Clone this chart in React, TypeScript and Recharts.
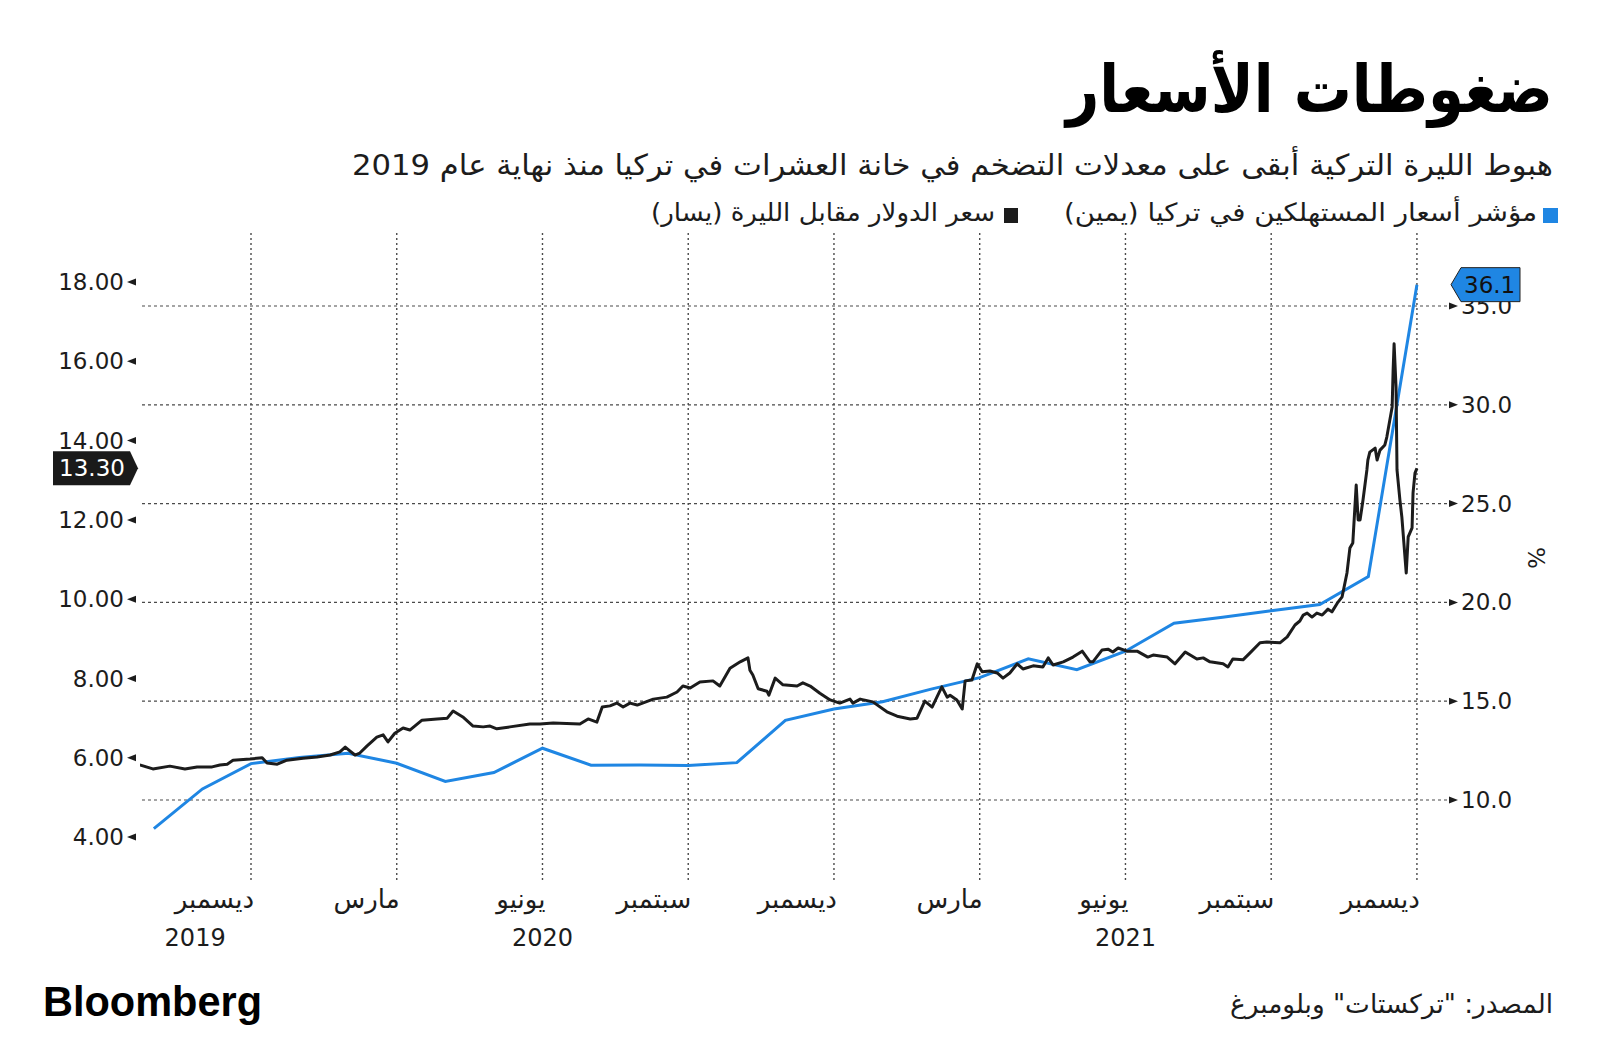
import React from "react";
import { LineChart, Line, XAxis, YAxis, ReferenceLine } from "recharts";

const FONT = "'DejaVu Sans', sans-serif";
const BLUE = "#1f86e3";
const INK = "#1c1c1c";
const GRID = "#4a4a4a";

// x values are months counted from 1 Jan 2020 (0 = Jan 2020 start, 24 = Jan 2022 start)
const monthTicks = [0, 3, 6, 9, 12, 15, 18, 21, 24];
const monthLabels = ["ديسمبر", "مارس", "يونيو", "سبتمبر", "ديسمبر", "مارس", "يونيو", "سبتمبر", "ديسمبر"];
const yearTicks = [-1.15, 6, 18];
const yearLabels = ["2019", "2020", "2021"];
const leftTicks = [4, 6, 8, 10, 12, 14, 16, 18];
const rightTicks = [10, 15, 20, 25, 30, 35];

// consumer price index, yoy % (right axis), plotted at month end
const cpiMonths = [-2, -1, 0, 1, 2, 3, 4, 5, 6, 7, 8, 9, 10, 11, 12, 13, 14, 15, 16, 17, 18, 19, 20, 21, 22, 23, 24];
const cpiValues = [
  8.55, 10.56, 11.84, 12.15, 12.37, 11.86, 10.94, 11.39, 12.62, 11.76, 11.77, 11.75, 11.89, 14.03,
  14.6, 14.97, 15.61, 16.19, 17.14, 16.59, 17.53, 18.95, 19.25, 19.58, 19.89, 21.31, 36.08,
];

// dollar vs lira (left axis)
const usdTryMonths = [
  -2.29, -2.02, -1.67, -1.36, -1.11, -0.8, -0.64, -0.49, -0.37, -0.02,
  0.23, 0.33, 0.54, 0.74, 1.07, 1.36, 1.63, 1.83, 1.94, 2.04,
  2.14, 2.24, 2.39, 2.59, 2.72, 2.82, 2.96, 3.13, 3.27, 3.52,
  3.83, 4.04, 4.16, 4.36, 4.57, 4.78, 4.92, 5.06, 5.33, 5.74,
  5.95, 6.22, 6.77, 6.94, 7.12, 7.23, 7.39, 7.53, 7.66, 7.8,
  7.95, 8.28, 8.56, 8.77, 8.89, 9.04, 9.24, 9.51, 9.65, 9.86,
  10.07, 10.23, 10.27, 10.33, 10.44, 10.62, 10.66, 10.79, 10.95, 11.24,
  11.36, 11.51, 11.71, 11.92, 12.12, 12.33, 12.39, 12.54, 12.8, 13.09,
  13.3, 13.57, 13.71, 13.87, 14.02, 14.22, 14.33, 14.39, 14.53, 14.64,
  14.7, 14.84, 14.95, 15.05, 15.21, 15.36, 15.48, 15.62, 15.77, 15.89,
  16.1, 16.3, 16.41, 16.51, 16.72, 16.92, 17.11, 17.27, 17.33, 17.52,
  17.64, 17.74, 17.85, 18.03, 18.24, 18.46, 18.57, 18.86, 19.02, 19.23,
  19.47, 19.6, 19.74, 20.01, 20.11, 20.21, 20.42, 20.56, 20.77, 20.91,
  21.18, 21.33, 21.49, 21.59, 21.66, 21.74, 21.84, 21.94, 22.05, 22.17,
  22.25, 22.36, 22.46, 22.56, 22.62, 22.68, 22.75, 22.79, 22.83, 22.89,
  22.97, 22.99, 23.03, 23.14, 23.18, 23.24, 23.34, 23.38, 23.49, 23.51,
  23.53, 23.57, 23.59, 23.65, 23.69, 23.78, 23.82, 23.9, 23.92, 23.96,
  24.0,
];
const usdTryValues = [
  5.82, 5.72, 5.79, 5.72, 5.77, 5.77, 5.82, 5.84, 5.94, 5.97,
  6.0, 5.87, 5.84, 5.94, 5.99, 6.02, 6.07, 6.15, 6.27, 6.17,
  6.07, 6.12, 6.3, 6.52, 6.58, 6.4, 6.62, 6.75, 6.7, 6.95,
  6.98, 7.0, 7.18, 7.03, 6.8, 6.78, 6.8, 6.73, 6.78, 6.85,
  6.85, 6.88, 6.85, 6.98, 6.9, 7.28, 7.31, 7.38, 7.28, 7.38,
  7.33, 7.48, 7.53, 7.66, 7.81, 7.76, 7.91, 7.94, 7.81, 8.26,
  8.42, 8.52, 8.21, 8.09, 7.74, 7.68, 7.58, 8.01, 7.84, 7.81,
  7.89, 7.81, 7.63, 7.46, 7.38, 7.48, 7.38, 7.48, 7.41, 7.16,
  7.05, 6.98, 7.0, 7.43, 7.28, 7.79, 7.53, 7.58, 7.46, 7.23,
  7.94, 7.96, 8.37, 8.17, 8.19, 8.14, 8.01, 8.14, 8.37, 8.24,
  8.32, 8.29, 8.52, 8.34, 8.42, 8.54, 8.69, 8.42, 8.42, 8.72,
  8.74, 8.67, 8.77, 8.69, 8.69, 8.54, 8.59, 8.54, 8.37, 8.67,
  8.49, 8.52, 8.42, 8.37, 8.29, 8.49, 8.47, 8.64, 8.9, 8.92,
  8.9, 9.05, 9.35, 9.45, 9.6, 9.65, 9.55, 9.65, 9.6, 9.75,
  9.68, 9.9, 10.06, 10.66, 11.29, 11.42, 12.88, 12.0, 12.0, 12.5,
  13.26, 13.51, 13.71, 13.81, 13.51, 13.76, 13.89, 14.09, 14.85, 15.78,
  16.44, 15.35, 13.26, 12.5, 12.07, 10.66, 11.57, 11.8, 12.68, 13.18,
  13.3,
];

const cpiData = cpiMonths.map((m, i) => ({ m, cpi: cpiValues[i] }));
const usdTryData = usdTryMonths.map((m, i) => ({ m, usd: usdTryValues[i] }));

const MonthTick = (props: any) => {
  const { x, y, payload } = props;
  const i = monthTicks.indexOf(payload.value);
  return (
    <text x={x + 3} y={y + 28} textAnchor="end" fontFamily={FONT} fontSize={26} fill={INK}>
      {monthLabels[i]}
    </text>
  );
};

const YearTick = (props: any) => {
  const { x, y, payload } = props;
  const i = yearTicks.indexOf(payload.value);
  return (
    <text x={x} y={y + 26} textAnchor="middle" fontFamily={FONT} fontSize={24} fill={INK}>
      {yearLabels[i]}
    </text>
  );
};

const LeftTick = (props: any) => {
  const { x, y, payload } = props;
  return (
    <g>
      <text x={x - 16} y={y + 8} textAnchor="end" fontFamily={FONT} fontSize={23} fill={INK}>
        {payload.value.toFixed(2)}
      </text>
      <polygon points={`${x - 13},${y} ${x - 4},${y - 3.5} ${x - 4},${y + 3.5}`} fill={INK} />
    </g>
  );
};

const RightTick = (props: any) => {
  const { x, y, payload } = props;
  return (
    <g>
      <polygon points={`${x + 11},${y} ${x + 2},${y - 3.5} ${x + 2},${y + 3.5}`} fill={INK} />
      <text x={x + 14} y={y + 8} textAnchor="start" fontFamily={FONT} fontSize={23} fill={INK}>
        {payload.value.toFixed(1)}
      </text>
    </g>
  );
};

const usdBadge = (p: any) => {
  if (p.index !== usdTryValues.length - 1) return <g key={`u${p.index}`} />;
  const y = p.y;
  return (
    <g key="usd-badge">
      <polygon points={`53,${y - 17} 130,${y - 17} 138,${y} 130,${y + 17} 53,${y + 17}`} fill="#1a1a1a" />
      <text x={92} y={y + 8} textAnchor="middle" fontFamily={FONT} fontSize={23} fill="#fff">
        {Number(p.value).toFixed(2)}
      </text>
    </g>
  );
};

const cpiBadge = (p: any) => {
  if (p.index !== cpiValues.length - 1) return <g key={`c${p.index}`} />;
  const y = p.y;
  return (
    <g key="cpi-badge">
      <polygon
        points={`1451,${y} 1461,${y - 17} 1520,${y - 17} 1520,${y + 17} 1461,${y + 17}`}
        fill={BLUE}
        stroke="#222"
        strokeWidth={1}
      />
      <text x={1464} y={y + 8} textAnchor="start" fontFamily={FONT} fontSize={23} fill="#111">
        {Number(p.value).toFixed(1)}
      </text>
    </g>
  );
};

export default function App() {
  const xDomain = [-2.285, 24.619];
  return (
    <div style={{ position: "absolute", left: 0, top: 0, width: 1600, height: 1063, background: "#fff" }}>
      <div style={{ position: "absolute", left: 0, top: 0 }}>
        <LineChart width={1600} height={1063} margin={{ top: 233, right: 0, bottom: 103, left: 0 }}>
          <XAxis
            dataKey="m"
            type="number"
            domain={xDomain}
            allowDataOverflow
            ticks={monthTicks}
            interval={0}
            axisLine={false}
            tickLine={false}
            tickSize={0}
            tickMargin={0}
            height={40}
            tick={<MonthTick />}
          />
          <XAxis
            xAxisId="year"
            dataKey="m"
            type="number"
            domain={xDomain}
            allowDataOverflow
            ticks={yearTicks}
            interval={0}
            axisLine={false}
            tickLine={false}
            tickSize={0}
            tickMargin={0}
            height={40}
            tick={<YearTick />}
          />
          <YAxis
            yAxisId="left"
            orientation="left"
            type="number"
            domain={[2.918, 19.236]}
            allowDataOverflow
            ticks={leftTicks}
            interval={0}
            width={140}
            axisLine={false}
            tickLine={false}
            tickSize={0}
            tickMargin={0}
            tick={<LeftTick />}
          />
          <YAxis
            yAxisId="right"
            orientation="right"
            type="number"
            domain={[5.951, 38.694]}
            allowDataOverflow
            ticks={rightTicks}
            interval={0}
            width={153}
            axisLine={false}
            tickLine={false}
            tickSize={0}
            tickMargin={0}
            tick={<RightTick />}
          />
          {rightTicks.map((t) => (
            <ReferenceLine key={`h${t}`} yAxisId="right" y={t} stroke={GRID} strokeDasharray="3 3" strokeWidth={1.2} />
          ))}
          {monthTicks.map((t) => (
            <ReferenceLine key={`v${t}`} yAxisId="right" x={t} stroke={GRID} strokeDasharray="2 3" strokeWidth={1.4} />
          ))}
          <Line
            yAxisId="right"
            data={cpiData}
            dataKey="cpi"
            type="linear"
            stroke={BLUE}
            strokeWidth={3}
            dot={false}
            isAnimationActive={false}
            label={cpiBadge}
          />
          <Line
            yAxisId="left"
            data={usdTryData}
            dataKey="usd"
            type="linear"
            stroke={INK}
            strokeWidth={3}
            strokeLinejoin="round"
            dot={false}
            isAnimationActive={false}
            label={usdBadge}
          />
        </LineChart>
      </div>
      <svg width={1600} height={1063} style={{ position: "absolute", left: 0, top: 0, pointerEvents: "none" }}>
        <text x={1553} y={112} textAnchor="end" fontFamily={FONT} fontWeight="bold" fontSize={66} fill="#000"
          textLength={487} lengthAdjust="spacingAndGlyphs">
          ضغوطات الأسعار
        </text>
        <text x={1553} y={175} textAnchor="end" fontFamily={FONT} fontSize={29} fill={INK}
          textLength={1201} lengthAdjust="spacingAndGlyphs">
          هبوط الليرة التركية أبقى على معدلات التضخم في خانة العشرات في تركيا منذ نهاية عام 2019
        </text>
        <rect x={1543} y={208} width={15} height={15} fill={BLUE} />
        <text x={1537} y={221} textAnchor="end" fontFamily={FONT} fontSize={25} fill={INK}
          textLength={473} lengthAdjust="spacingAndGlyphs">
          مؤشر أسعار المستهلكين في تركيا (يمين)
        </text>
        <rect x={1004} y={208} width={14} height={15} fill={INK} />
        <text x={995} y={221} textAnchor="end" fontFamily={FONT} fontSize={25} fill={INK}
          textLength={344} lengthAdjust="spacingAndGlyphs">
          سعر الدولار مقابل الليرة (يسار)
        </text>
        <text x={1536} y={558} textAnchor="middle" fontFamily={FONT} fontSize={23} fill={INK}
          transform="rotate(90 1536 558)" dy={8}>
          %
        </text>
        <text x={43} y={1016} fontFamily="'Liberation Sans', Arial, sans-serif" fontWeight="bold" fontSize={42}
          fill="#000" textLength={219} lengthAdjust="spacingAndGlyphs">
          Bloomberg
        </text>
        <text x={1553} y={1013} textAnchor="end" fontFamily={FONT} fontSize={26} fill={INK}
          textLength={323} lengthAdjust="spacingAndGlyphs">
          المصدر: "تركستات" وبلومبرغ
        </text>
      </svg>
    </div>
  );
}
